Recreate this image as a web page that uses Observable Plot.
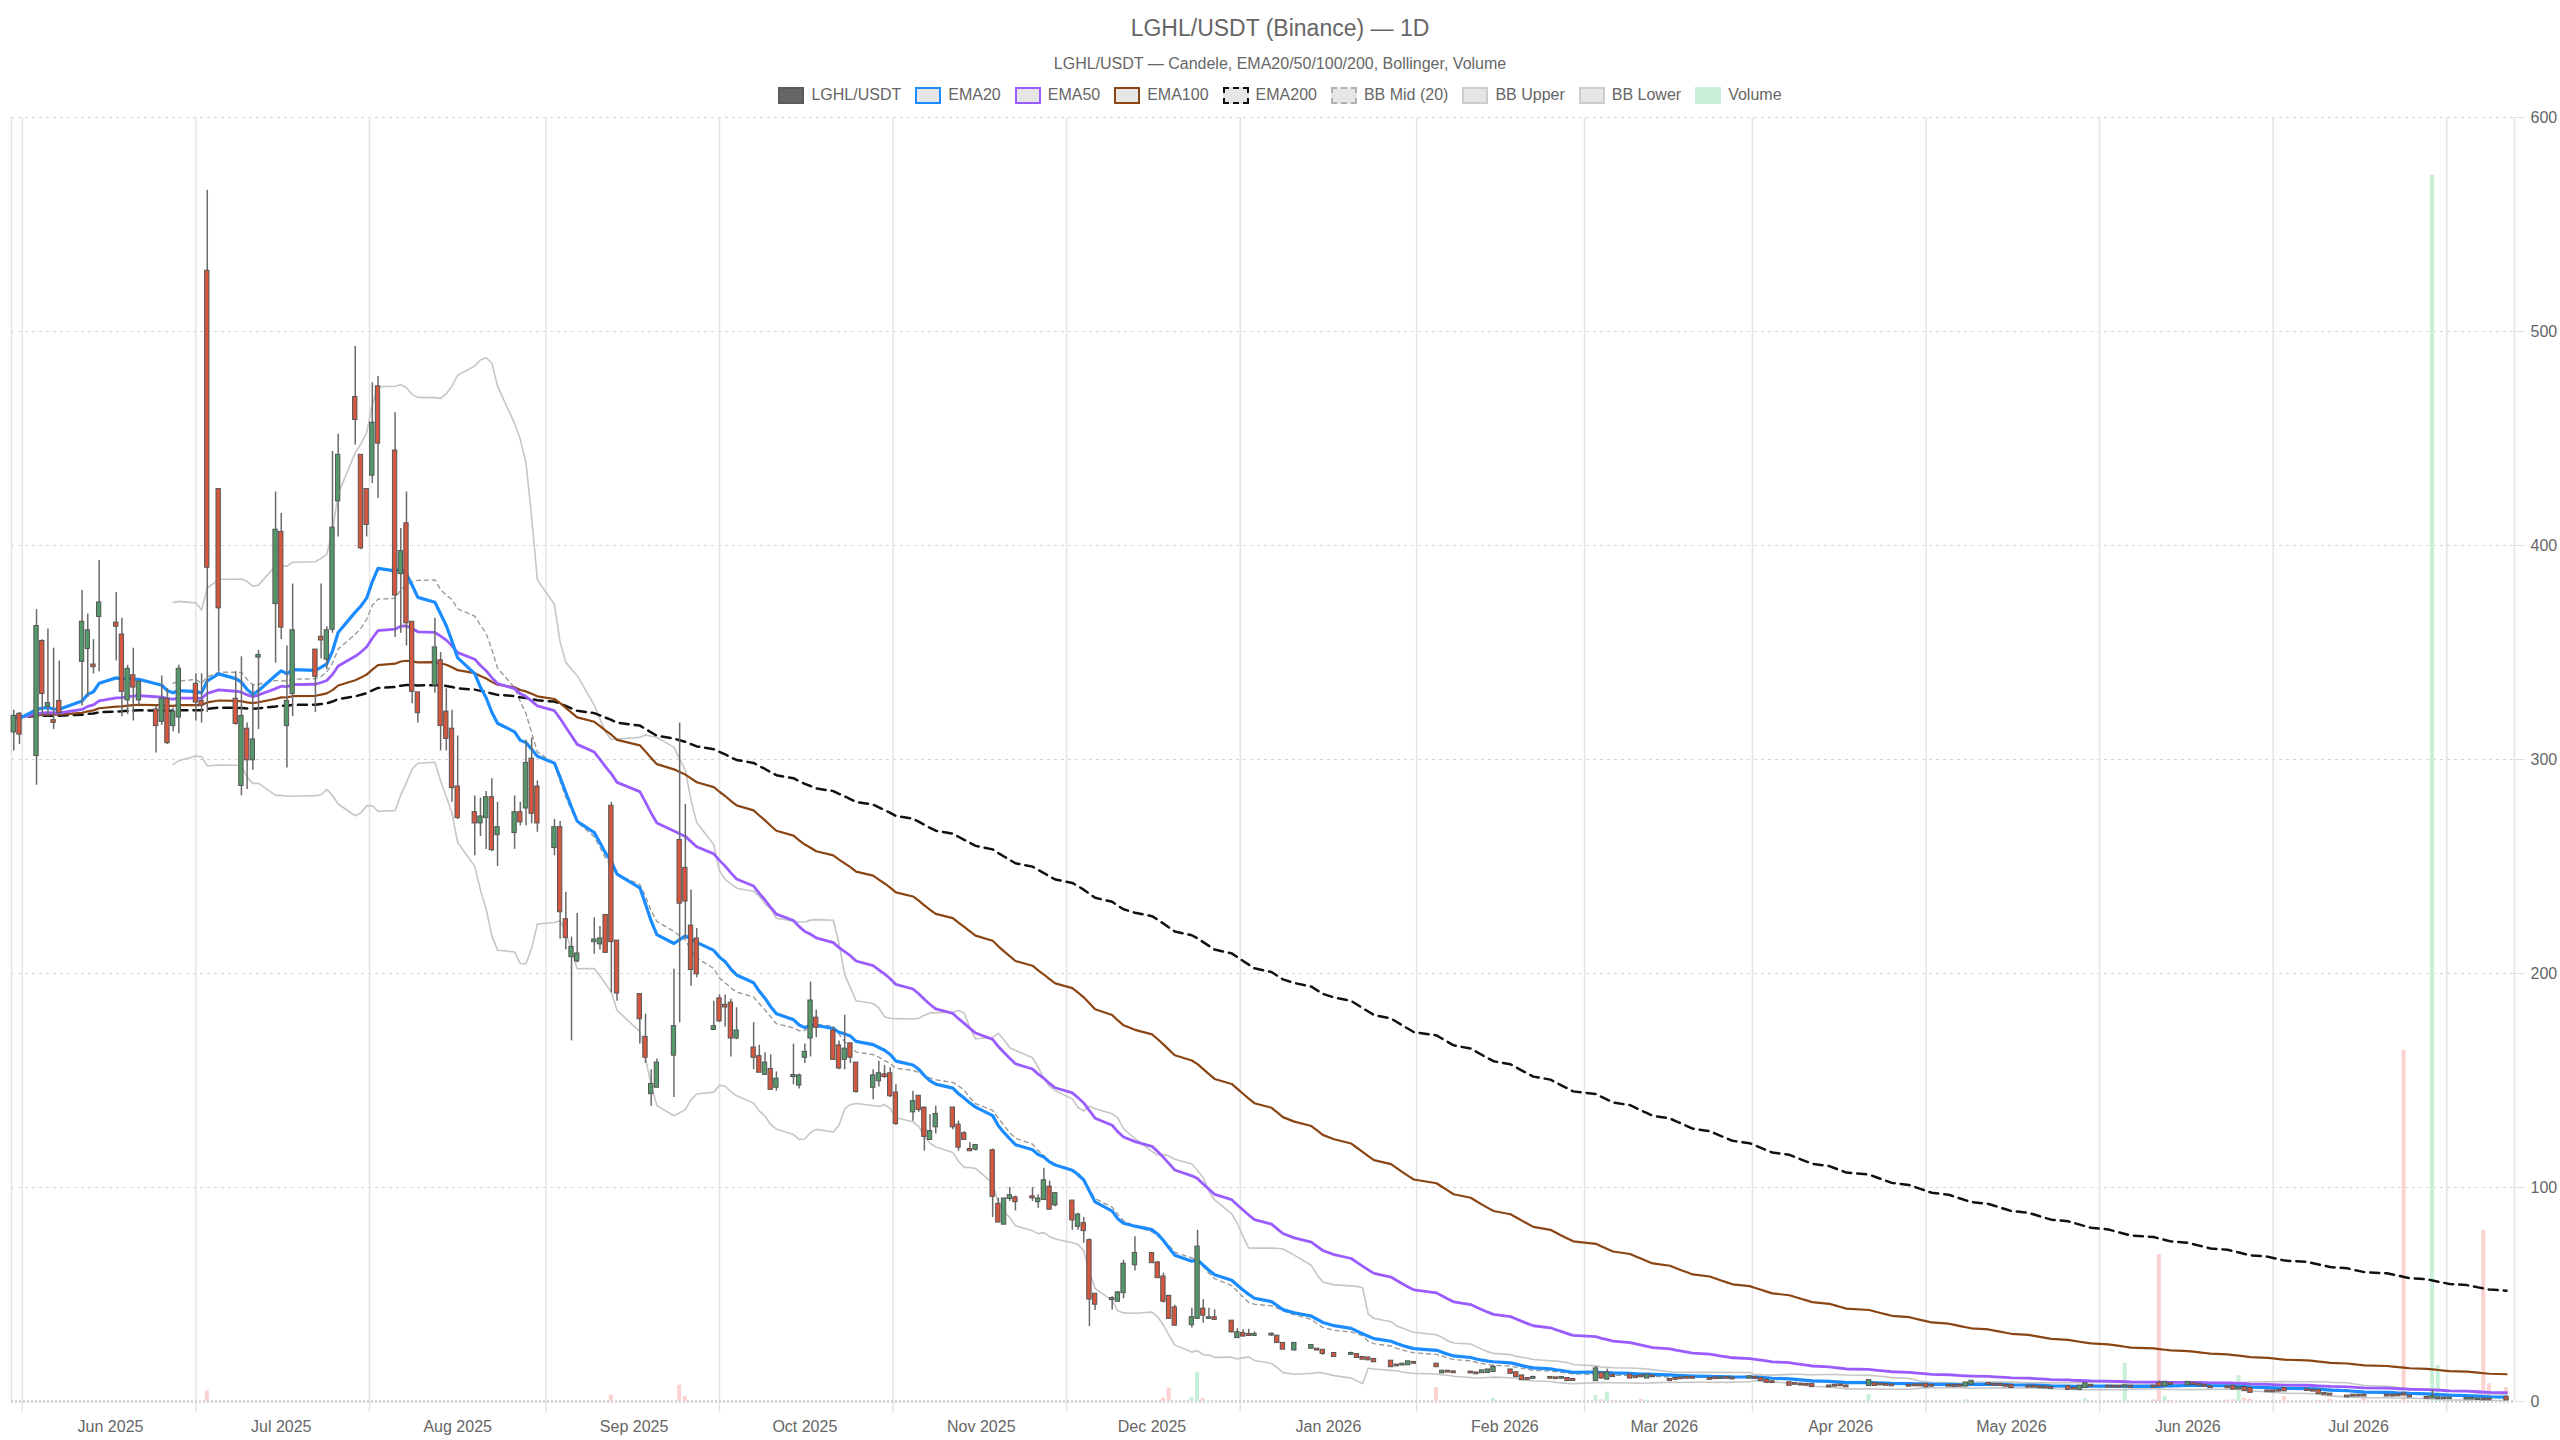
<!DOCTYPE html>
<html>
<head>
<meta charset="utf-8">
<script src="https://cdn.jsdelivr.net/npm/d3@7"></script>
<script src="https://cdn.jsdelivr.net/npm/@observablehq/plot@0.6"></script>
<style>
html,body{margin:0;padding:0;background:#fff;overflow:hidden;}
body{width:2560px;height:1440px;position:relative;font-family:"Liberation Sans",Arial,Helvetica,sans-serif;color:#666;}
#title{position:absolute;left:0;width:2560px;top:14px;text-align:center;font-size:23px;line-height:28px;}
#subtitle{position:absolute;left:0;width:2560px;top:54px;text-align:center;font-size:16px;line-height:20px;}
#legend{position:absolute;left:0;width:2560px;top:85px;height:20px;display:flex;justify-content:center;align-items:center;font-size:16px;line-height:20px;}
.item{display:flex;align-items:center;margin:0 7px;}
.box{width:22px;height:13px;margin-right:7px;background:#e6e6e6;border:2px solid #ccc;}
#chart{position:absolute;left:0;top:107px;width:2560px;height:1333px;}
#chart svg{position:absolute;left:0;top:0;}
</style>
</head>
<body>
<div id="title">LGHL/USDT (Binance) — 1D</div>
<div id="subtitle">LGHL/USDT — Candele, EMA20/50/100/200, Bollinger, Volume</div>
<div id="legend"></div>
<div id="chart"></div>
<script>
// ---------------- DATA ----------------
const dates = [
"2025-05-15","2025-05-16",
"2025-05-19","2025-05-20","2025-05-21","2025-05-22","2025-05-23",
"2025-05-27","2025-05-28","2025-05-29","2025-05-30",
"2025-06-02","2025-06-03","2025-06-04","2025-06-05","2025-06-06",
"2025-06-09","2025-06-10","2025-06-11","2025-06-12","2025-06-13",
"2025-06-16","2025-06-17","2025-06-18","2025-06-20",
"2025-06-23","2025-06-24","2025-06-25","2025-06-26","2025-06-27",
"2025-06-30","2025-07-01","2025-07-02","2025-07-03",
"2025-07-07","2025-07-08","2025-07-09","2025-07-10","2025-07-11",
"2025-07-14","2025-07-15","2025-07-16","2025-07-17","2025-07-18",
"2025-07-21","2025-07-22","2025-07-23","2025-07-24","2025-07-25",
"2025-07-28","2025-07-29","2025-07-30","2025-07-31","2025-08-01",
"2025-08-04","2025-08-05","2025-08-06","2025-08-07","2025-08-08",
"2025-08-11","2025-08-12","2025-08-13","2025-08-14","2025-08-15",
"2025-08-18","2025-08-19","2025-08-20","2025-08-21","2025-08-22",
"2025-08-25","2025-08-26","2025-08-27","2025-08-28","2025-08-29",
"2025-09-02","2025-09-03","2025-09-04","2025-09-05",
"2025-09-08","2025-09-09","2025-09-10","2025-09-11","2025-09-12",
"2025-09-15","2025-09-16","2025-09-17","2025-09-18","2025-09-19",
"2025-09-22","2025-09-23","2025-09-24","2025-09-25","2025-09-26",
"2025-09-29","2025-09-30","2025-10-01","2025-10-02","2025-10-03",
"2025-10-06","2025-10-07","2025-10-08","2025-10-09","2025-10-10",
"2025-10-13","2025-10-14","2025-10-15","2025-10-16","2025-10-17",
"2025-10-20","2025-10-21","2025-10-22","2025-10-23","2025-10-24",
"2025-10-27","2025-10-28","2025-10-29","2025-10-30","2025-10-31",
"2025-11-03","2025-11-04","2025-11-05","2025-11-06","2025-11-07",
"2025-11-10","2025-11-11","2025-11-12","2025-11-13","2025-11-14",
"2025-11-17","2025-11-18","2025-11-19","2025-11-20","2025-11-21",
"2025-11-24","2025-11-25","2025-11-26","2025-11-28",
"2025-12-01","2025-12-02","2025-12-03","2025-12-04","2025-12-05",
"2025-12-08","2025-12-09","2025-12-10","2025-12-11","2025-12-12",
"2025-12-15","2025-12-16","2025-12-17","2025-12-18","2025-12-19",
"2025-12-22","2025-12-23","2025-12-24","2025-12-26",
"2025-12-29","2025-12-30","2025-12-31","2026-01-02",
"2026-01-05","2026-01-06","2026-01-07","2026-01-08","2026-01-09",
"2026-01-12","2026-01-13","2026-01-14","2026-01-15","2026-01-16",
"2026-01-20","2026-01-21","2026-01-22","2026-01-23",
"2026-01-26","2026-01-27","2026-01-28","2026-01-29","2026-01-30",
"2026-02-02","2026-02-03","2026-02-04","2026-02-05","2026-02-06",
"2026-02-09","2026-02-10","2026-02-11","2026-02-12","2026-02-13",
"2026-02-17","2026-02-18","2026-02-19","2026-02-20",
"2026-02-23","2026-02-24","2026-02-25","2026-02-26","2026-02-27",
"2026-03-02","2026-03-03","2026-03-04","2026-03-05","2026-03-06",
"2026-03-09","2026-03-10","2026-03-11","2026-03-12","2026-03-13",
"2026-03-16","2026-03-17","2026-03-18","2026-03-19","2026-03-20",
"2026-03-23","2026-03-24","2026-03-25","2026-03-26","2026-03-27",
"2026-03-30","2026-03-31","2026-04-01","2026-04-02",
"2026-04-06","2026-04-07","2026-04-08","2026-04-09","2026-04-10",
"2026-04-13","2026-04-14","2026-04-15","2026-04-16","2026-04-17",
"2026-04-20","2026-04-21","2026-04-22","2026-04-23","2026-04-24",
"2026-04-27","2026-04-28","2026-04-29","2026-04-30","2026-05-01",
"2026-05-04","2026-05-05","2026-05-06","2026-05-07","2026-05-08",
"2026-05-11","2026-05-12","2026-05-13","2026-05-14","2026-05-15",
"2026-05-18","2026-05-19","2026-05-20","2026-05-21","2026-05-22",
"2026-05-26","2026-05-27","2026-05-28","2026-05-29",
"2026-06-01","2026-06-02","2026-06-03","2026-06-04","2026-06-05",
"2026-06-08","2026-06-09","2026-06-10","2026-06-11","2026-06-12",
"2026-06-15","2026-06-16","2026-06-17","2026-06-18",
"2026-06-22","2026-06-23","2026-06-24","2026-06-25","2026-06-26",
"2026-06-29","2026-06-30","2026-07-01","2026-07-02",
"2026-07-06","2026-07-07","2026-07-08","2026-07-09","2026-07-10",
"2026-07-13","2026-07-14","2026-07-15","2026-07-16","2026-07-17",
"2026-07-20","2026-07-21","2026-07-22","2026-07-23","2026-07-24",
"2026-07-27"
];

const open = [
313,321, 302,355,325,318,327, 346,352,344,367, 363.6,358,328,339,328, 323,318,328,316,320,
335,327,528,426, 328,288,314,300,348, 373,406,316,331, 351,357,347,361,421, 469,442,426,433,474,
444,387,410,364,331, 335,346,322,314,287, 275,270.5,273,282,265, 266,275,277.5,300,287,
259,268,225,208,206, 215,214,227,278,215, 190,170,144,147, 162,262,249,222,216, 174,188,185,186,170,
165,161,153,155,147, 152,148,161,170,179, 173,166,160,167,158, 147,150,152.5,153,144,
135.5,142.5,137,122.6,128.5, 137,129,125,117.6,118, 117,92,83,95,95, 95.5,93.5,94.5,100,92,
93.5,82,83,75,50, 47.8,47,51,64, 69,64.6,58,49,43.6, 36,39,43,39,39, 37.4,30,31.6,31.2,31,
31.2,30.4,27,24.2, 25,24.3,23.8,22.3, 22.2,21.8,20.4,20.2,19.5, 18.7,16.9,17.2,17.3,18.1,
17.3,13.5,14,13.7, 13.6,13.2,13.6,13.7,14.2, 14.6,13.3,11.8,10.6,11, 11.1,10.9,11,10.6,10.1,
9.9,13,10.6,11.9, 12.2,11.4,11.8,11.1,11.8, 10.1,10.6,10.9,11.1,11.1, 10.6,10.9,10.9,11.1,10.8,
11.1,11.1,10.6,9.9,9.1, 8.6,8.3,8,7.9,7.9, 7.1,7.4,7.6,7.1, 7.6,8.3,8,7.8,7.6, 7.4,7.6,7.6,7.9,7.4,
7.4,7.3,7.4,7.4,8.2, 8.2,7.9,7.8,7.4,7.4, 7,7,6.7,6.6,6.4, 6.7,6.1,5.8,6.7,7.4, 7,7,7,7,7,
7,8.4,7.4,8.2, 7.9,8.2,7.9,7.4,6.7, 6.7,7,6,6.4,5.9, 4.8,4.8,5.1,5.9, 5.4,5.1,5.1,3.6,3.3,
2.4,2.8,2.8,2.8, 2.8,2.8,2.9,3.4,2.4, 1.8,1.8,1.5,1.5,1.5, 1.3,1.3,1.1,1,1, 1.8
];

const high = [
323,322, 370,356,361,352,346, 379,368,356,393, 378,366,344,352,337, 325,339,333,324,344,
340,340,566,426, 341,348,317,335,351, 425,415,353,382, 351,382,362,444,452, 493,442,426,476,479,
462,408,425,364,331, 366,350,333,323,311, 283,282,285,291,280, 283,280,309,310,290,
272,271,238,217,228, 226,222,227,280,215, 190,181,155,160, 202,317,279,239,221, 187,190,190,188,184,
177,166.5,163,162,154, 167,153,167,196,183, 175,168.5,180.5,167,158, 155,159,157,156,148,
145,143,137,134,138, 137,131,126,121,120, 118,95,95,100,96, 100,96.6,109,103,97.4,
94,88,86,76,50, 49,51.4,66,77, 69.3,65.4,60,49.4,45, 43.6,80,47.5,43.6,42.8, 37.4,34,33.5,33.8,32.6,
32,30.6,27.2,27.2, 26.4,24.6,24,22.5, 23,22,20.6,20.4,19.7, 18.9,17.2,17.6,18.6,18.3,
17.5,14.6,14.3,14, 13.9,13.5,14.4,14.8,16.8, 14.8,13.4,11.9,10.9,11.8, 11.4,11.1,11.3,10.7,10.3,
16.2,13.7,15.1,13.2, 12.4,11.6,12,12.4,12, 10.6,10.8,11.1,11.3,11.3, 10.8,11.1,11.1,11.3,11,
11.6,11.3,10.7,10,9.3, 8.7,8.5,8.2,8.1,8, 7.3,7.6,7.8,7.3, 10.1,8.4,8.2,8,7.8, 7.6,7.8,7.8,8,7.6,
7.6,7.5,7.6,8.7,9.5, 8.4,8.1,8,7.6,7.5, 7.2,7.2,6.9,6.8,6.6, 6.8,6.3,7.1,8.4,7.6, 7.2,7.2,7.2,7.3,7.2,
7.2,9.6,8.9,8.4, 9,8.4,8.1,7.6,6.9, 6.9,7.1,6.4,6.5,6, 5,5,5.3,6, 5.6,5.3,5.2,3.8,3.5,
2.6,3,3,3, 3,3,3.1,3.6,2.6, 2,5.4,1.7,1.7,1.7, 1.5,1.5,1.3,1.2,1.1, 1.9
];

const low = [
304,307, 288,320,320,314,321, 325,329,340,341, 346,320,321,318,325, 303,316,307,313,312,
318,317,322,341, 316,283,286,295,314, 345,356,296,320, 322,347,342,359,404, 447,398,404,429,422,
357,359,353,326,317, 331,304,304,280,272, 255,264,258,257,250, 258,269,269,270,266,
255,216,211,168.5,205, 209,211,210,191,187, 167,158,138,147, 142,177,216,194,198, 174,177,175,161,169,
155,154,152.5,146,145, 148,146,158,161,170, 160,155,155,158,144, 141,147,151,142,129,
131,135,117,122,125, 127,117,122,116.8,117, 86,84,82.6,93.5,89, 93.5,90.3,94,89.6,91,
80,80,74,35,42.5, 42.8,46.7,48,61, 65,57.6,46,39,35.4, 34.3,38.5,36.6,38.5,38.2, 32,29.6,30.4,30.4,30.7,
30.5,27.4,24.4,24, 24.8,23.8,21.6,21, 21.6,20.5,19.7,19.4,18.5, 16.2,16.6,17,17.1,17.8,
16.2,13.2,13.7,13.4, 13.3,13,13.5,13.6,14, 13.1,11.6,10.1,10.3,10.6, 10.8,10.6,10.8,9.8,9.8,
9.6,10.6,10.1,11.4, 11,11.2,11.6,11,11.6, 9.7,10.4,10.7,10.9,10.9, 10.4,10.7,10.7,10.9,10.6,
11,10.9,9.8,9,8.9, 7.6,8.1,7.8,7.7,7, 6.9,7.2,7.4,6.9, 7.5,7.5,7.8,7.6,7.4, 7.2,7.4,7.4,6.9,7.2,
7.2,7.1,7.2,7.3,8.1, 8,7.7,7.6,7.2,6.6, 6.8,6.8,6.5,6.4,6.2, 5.7,5.9,5.7,6.6,7.2, 6.8,6.8,6.8,6.9,6.8,
6.8,6.9,7.3,8, 7.8,8,7.7,7.2,6.5, 6.5,5.8,5.9,5.1,4.3, 4.6,4.6,4.9,5, 5.2,4.9,3.8,3.4,3.1,
2.2,2.6,2.6,2.6, 2.6,2.6,2.7,3.1,2.2, 1.6,1.7,1.4,1.4,1.4, 1.2,1.2,1,0.9,0.9, 0.8
];

const close = [
320,312, 362,331,326,317.5,322, 364,360,343.5,373, 362.4,332,342,334,336, 316,328,308,322,342,
327,325.5,390,371, 317,320,300,309,348.5, 407,362,327,360, 339,356,360,408,442, 459,399,410,457,448,
377,397,364,332,322, 352,316,310,287,273, 270.5,273,282,258,268, 275,271,298,275,270.5,
268,229,217,212,209, 215.5,216,210,215,191, 179,161,148,158, 175,233,234,202,200, 175,178,184.5,170,173,
161,154,158,146,150.5, 152.2,152,163,187,175, 160,156,164.5,161,145, 152,153,152,143,130,
140,136.6,124,126,134, 128.5,119,122.6,117.3,119.5, 96,84,94.5,96,93.5, 95.3,94.5,103,90,97,
85,87,80,48,45.6, 48,50.6,64,69, 65,58,47,39,35.8, 39,72,40.5,39,38.5, 32.7,32,30.7,31,31.2,
31.3,27.7,24.6,27, 26,24.2,22.6,21.2, 22.3,20.7,19.9,19.6,18.7, 16.4,16.8,17.3,18.4,18,
16.4,14,13.9,13.6, 13.5,13.1,14.2,14.6,15.8, 13.3,11.8,10.3,10.5,11.1, 11,10.8,11.1,9.9,10,
15.1,11.1,13.2,11.8, 11.1,11.3,11.7,12.2,11.7, 10,10.5,10.8,11,11, 10.5,10.8,10.9,11,10.7,
11.4,11,9.9,9.1,9, 7.7,8.2,7.9,7.8,7.1, 7,7.3,7.5,7, 9.6,7.6,7.9,7.7,7.5, 7.3,7.5,7.5,7,7.3,
7.3,7.2,7.3,8.5,9.3, 8.1,7.8,7.7,7.3,6.7, 6.9,6.9,6.6,6.5,6.3, 5.8,6,7,8.2,7.3, 6.9,6.9,6.9,7.2,6.9,
6.9,7.4,8.7,8.1, 8.8,8.1,7.8,7.3,6.6, 6.6,5.9,6.2,5.2,4.4, 4.7,4.7,5,5.1, 5.3,5,3.9,3.5,3.2,
2.3,2.7,2.7,2.7, 2.7,2.7,2.8,3.2,2.3, 1.7,2.2,1.6,1.5,1.5, 1.3,1.3,1.1,0.95,0.95, 0.9
];

// volume, in units of the hidden volume axis (0–600)
const volume = [
0,0, 0,0,0,0,0, 0,0,0,0, 0,0,0,0,0, 0,0,0,0,0,
0,0,4.9,0, 0,0,0,0,0, 0,0,0,0, 0,0,0,0,0, 0,0,0,0,0,
0,0,0,0,0, 0,0,0,0,0, 0,0,0,0,0, 0,0,0,0,0,
0,0,0,0,0, 0,0,0,3.0,0, 0,0,0,0, 0,7.6,2.3,0,0, 0,0,0,0,0,
0,0,0,0,0, 0,0,0,0,0, 0,0,0,0,0, 0,0,0,0,0,
0,0,0,0,0, 0,0,0,0,0, 0,0,0,0,0, 0,0,0,0,0,
0,0,0,0,0, 0,0,0,0, 0,0,1.5,6.3,0, 1.9,13.7,1.5,0.5,0, 0,0,0,0,0,
0,0,0,0, 0,0,0,0, 0,0,0,0,0, 0,0,0,0,0,
6.4,0,0,0, 0,0,0,0,1.5, 0,0,0,0,0, 0,0,0,0,0,
2.8,0.8,4.4,0.5, 0,0,1,0.6,0, 0,0,0,0,0, 0,0,0,0,0,
0,0,0,0,0, 0,0,0,0,0, 0,0,0,0, 3.3,0,0,0,0, 0,0,0,0,0,
0,0,0,0.8,0, 0,0,0,0,0, 0,0,0,0,0, 0,0,0,1.3,0, 0,0,0,17.9,0,
0.8,68.7,2.5,0.5, 0,0,0,0,0, 0.6,0.8,12.1,1.5,1, 0,0,0,2.3, 0,0,0.5,0,1,
0,0,0,1.2, 0,0,0,164,0, 0,573,16.8,0,0, 0,0,0,80,8.3, 6.5
];

const yTicks = [0, 100, 200, 300, 400, 500, 600];
const monthStarts = ["2025-05-01","2025-06-01","2025-07-01","2025-08-01","2025-09-01","2025-10-01","2025-11-01",
  "2025-12-01","2026-01-01","2026-02-01","2026-03-01","2026-04-01","2026-05-01","2026-06-01","2026-07-01","2026-08-01"];
const tickLabelMonths = monthStarts.slice(1, -1);
const xDomainStr = ["2025-05-14T14:24:00Z", "2026-07-28T09:36:00Z"];

const legendItems = [
  {label: "LGHL/USDT", style: "background:#666;border:2px solid #5a5a5a;"},
  {label: "EMA20", style: "border:2px solid #1a8cff;"},
  {label: "EMA50", style: "border:2px solid #9b5cff;"},
  {label: "EMA100", style: "border:2px solid #8b4513;"},
  {label: "EMA200", style: "border:2px dashed #111;"},
  {label: "BB Mid (20)", style: "border:2px dashed #b0b0b0;"},
  {label: "BB Upper", style: "border:2px solid #cdcdcd;"},
  {label: "BB Lower", style: "border:2px solid #cdcdcd;"},
  {label: "Volume", style: "background:#c8f0d8;border:2px solid #c8f0d8;"}
];

// ---------------- build ----------------
const parse = d3.utcParse("%Y-%m-%d");
const DAY = 864e5;
const rows = dates.map((s, i) => ({date: parse(s), o: open[i], h: high[i], l: low[i], c: close[i], v: volume[i]}));

function ema(vals, n) {
  const k = 2 / (n + 1); let prev;
  return vals.map((v, i) => (prev = i === 0 ? v : v * k + prev * (1 - k)));
}
const e20 = ema(close, 20), e50 = ema(close, 50), e100 = ema(close, 100), e200 = ema(close, 200);
rows.forEach((r, i) => {
  r.e20 = e20[i]; r.e50 = e50[i]; r.e100 = e100[i]; r.e200 = e200[i];
  if (i >= 19) {
    const w = close.slice(i - 19, i + 1);
    const m = d3.mean(w);
    const sd = Math.sqrt(d3.mean(w, x => (x - m) ** 2));
    r.bbm = m; r.bbu = m + 2 * sd; r.bbl = m - 2 * sd;
  } else { r.bbm = r.bbu = r.bbl = NaN; }
});

const xDomain = xDomainStr.map(s => new Date(s));
const ms = monthStarts.map(parse);
const gridDates = d3.pairs(ms, (a, b) => new Date((+a + +b) / 2));
const tickDates = tickLabelMonths.map(parse);

const W = 2560, H = 1333;
const common = {width: W, height: H, marginTop: 10, marginBottom: 39, marginLeft: 11, marginRight: 46};
const font = '"Liberation Sans", Arial, Helvetica, sans-serif';
const baseStyle = {background: "transparent", fontFamily: font, fontSize: "16px", color: "#666", overflow: "visible"};

// layer 1: grid + axes
const gridPlot = Plot.plot({
  ...common, style: baseStyle,
  x: {type: "utc", domain: xDomain},
  y: {domain: [0, 600]},
  marks: [
    Plot.ruleY(yTicks.filter(t => t > 0), {stroke: "#d6d6d6", strokeWidth: 1, strokeDasharray: "3,4"}),
    Plot.ruleX(gridDates, {stroke: "#e4e4e4", strokeWidth: 1.5, insetBottom: -11}),
    Plot.ruleX([xDomain[0], xDomain[1]], {stroke: "#e4e4e4", strokeWidth: 1.5}),
    Plot.ruleY([0], {stroke: "#cdcdcd", strokeWidth: 2.5, strokeDasharray: "2,2"}),
    Plot.axisY({anchor: "right", ticks: yTicks, tickSize: 10, tickPadding: 6, stroke: "#e0e0e0", fill: "#666", fontSize: 16, label: null}),
    Plot.axisX({ticks: tickDates, tickFormat: d3.utcFormat("%b %Y"), tickSize: 0, tickPadding: 19, fill: "#666", fontSize: 16, label: null})
  ]
});

// layer 2: volume on its own hidden axis
const volRows = rows.filter(r => r.v > 0);
const half = 0.35 * DAY;
const volPlot = Plot.plot({
  ...common, style: baseStyle,
  x: {type: "utc", domain: xDomain, axis: null},
  y: {domain: [0, 600], axis: null},
  marks: [
    Plot.rectY(volRows.filter(r => r.c >= r.o), {x1: r => new Date(+r.date - half), x2: r => new Date(+r.date + half), y1: 0, y2: "v", fill: "#c8f0d8"}),
    Plot.rectY(volRows.filter(r => r.c < r.o), {x1: r => new Date(+r.date - half), x2: r => new Date(+r.date + half), y1: 0, y2: "v", fill: "#fad2cf"})
  ]
});

// layer 3: price
const bw = 0.38 * DAY;
const priceMarks = [
  Plot.line(rows, {x: "date", y: "bbl", stroke: "#c6c6c6", strokeWidth: 1.6}),
  Plot.line(rows, {x: "date", y: "bbu", stroke: "#c6c6c6", strokeWidth: 1.6}),
  Plot.line(rows, {x: "date", y: "bbm", stroke: "#9a9a9a", strokeWidth: 1.4, strokeDasharray: "4,4"}),
  Plot.line(rows, {x: "date", y: "e200", stroke: "#111", strokeWidth: 2.5, strokeDasharray: "9,6"}),
  Plot.line(rows, {x: "date", y: "e100", stroke: "#8b4513", strokeWidth: 2.2}),
  Plot.line(rows, {x: "date", y: "e50", stroke: "#9b5cff", strokeWidth: 2.8}),
  Plot.line(rows, {x: "date", y: "e20", stroke: "#1a8cff", strokeWidth: 3.2}),
  Plot.ruleX(rows, {x: "date", y1: "l", y2: "h", stroke: "#6a6a6a", strokeWidth: 1.5}),
  Plot.rect(rows.filter(r => r.c >= r.o), {x1: r => new Date(+r.date - bw), x2: r => new Date(+r.date + bw), y1: "o", y2: "c", fill: "#54996a", stroke: "#555", strokeWidth: 1, insetTop: -0.8, insetBottom: -0.8}),
  Plot.rect(rows.filter(r => r.c < r.o), {x1: r => new Date(+r.date - bw), x2: r => new Date(+r.date + bw), y1: "c", y2: "o", fill: "#d6573f", stroke: "#555", strokeWidth: 1, insetTop: -0.8, insetBottom: -0.8})
];
const pricePlot = Plot.plot({
  ...common, style: baseStyle,
  x: {type: "utc", domain: xDomain, axis: null},
  y: {domain: [0, 600], axis: null},
  marks: priceMarks
});

const chart = document.getElementById("chart");
chart.append(gridPlot, volPlot, pricePlot);

// legend
const lg = document.getElementById("legend");
legendItems.forEach(it => {
  const d = document.createElement("div"); d.className = "item";
  const b = document.createElement("div"); b.className = "box"; b.setAttribute("style", it.style);
  const t = document.createElement("span"); t.textContent = it.label;
  d.append(b, t); lg.append(d);
});
</script>
</body>
</html>
